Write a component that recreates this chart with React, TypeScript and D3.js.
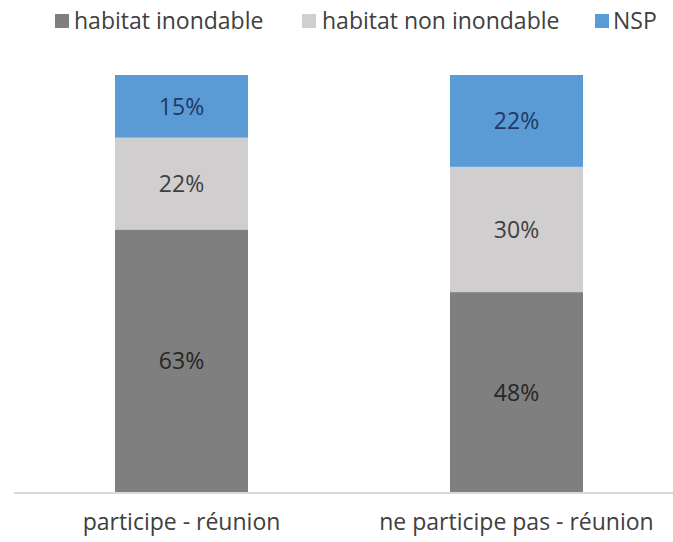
import React from "react";
import * as d3 from "d3";

const categories = ["participe - réunion", "ne participe pas - réunion"];
const seriesNames = ["habitat inondable", "habitat non inondable", "NSP"];
const inondable = [63, 48];
const nonInondable = [22, 30];
const nsp = [15, 22];

const W = 673;
const H = 542;
const colors = ["#7f7f7f", "#d0cece", "#5b9bd5"];
const labelColors = ["#262626", "#404040", "#1f3864"];
const FONT = "'Open Sans', 'Noto Sans', sans-serif";

export default function App() {
  const x = d3
    .scaleBand<string>()
    .domain(categories)
    .range([14, 684])
    .paddingInner(0.603)
    .paddingOuter(0.3015);
  const y = d3.scaleLinear().domain([0, 100]).range([492.5, 75]);

  const rows = categories.map((c, i) => ({
    cat: c,
    v0: inondable[i],
    v1: nonInondable[i],
    v2: nsp[i],
  }));
  const stack = d3.stack<any>().keys(["v0", "v1", "v2"])(rows);

  const legendX = [55, 302, 595];
  const legendTextX = [74, 322, 613];

  return (
    <svg
      width={W}
      height={H}
      style={{ position: "absolute", left: 0, top: 0, background: "#fff" }}
      fontFamily={FONT}
    >
      {seriesNames.map((s, i) => (
        <g key={s}>
          <rect x={legendX[i]} y={14} width={14} height={14} fill={colors[i]} />
          <text x={legendTextX[i]} y={29} fontSize={23} fill="#404040">
            {s}
          </text>
        </g>
      ))}
      {stack.map((layer, si) =>
        layer.map((d, i) => {
          const x0 = x(categories[i])!;
          const yTop = y(d[1]);
          const yBot = y(d[0]);
          return (
            <g key={`${si}-${i}`}>
              <rect
                x={x0}
                y={yTop}
                width={x.bandwidth()}
                height={yBot - yTop}
                fill={colors[si]}
              />
              <text
                x={x0 + x.bandwidth() / 2}
                y={(yTop + yBot) / 2}
                dy="0.36em"
                textAnchor="middle"
                fontSize={23}
                fill={labelColors[si]}
              >
                {`${d[1] - d[0]}%`}
              </text>
            </g>
          );
        })
      )}
      <line x1={14} x2={W} y1={493} y2={493} stroke="#d9d9d9" strokeWidth={2} />
      {categories.map((c) => (
        <text
          key={c}
          x={x(c)! + x.bandwidth() / 2}
          y={530}
          textAnchor="middle"
          fontSize={23}
          fill="#404040"
        >
          {c}
        </text>
      ))}
    </svg>
  );
}
